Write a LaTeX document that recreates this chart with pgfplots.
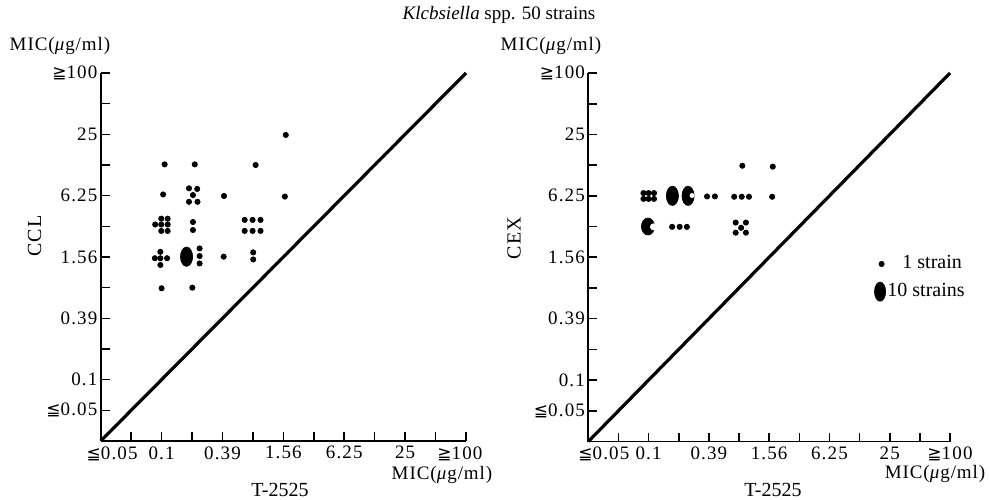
\documentclass[border=0pt]{standalone}
\usepackage{fontspec}
\setmainfont{Liberation Serif}
\newfontfamily\tickfont[LetterSpace=6]{Liberation Serif}
\newfontfamily\labfont[LetterSpace=5]{Liberation Serif}
\newfontfamily\symfont{DejaVu Sans}
\newcommand\LE{{\symfont\fontsize{8.5}{10}\selectfont ≦}}
\newcommand\GE{{\symfont\fontsize{8.5}{10}\selectfont ≧}}
\usepackage{pgfplots}
\pgfplotsset{compat=1.18}
\pgfplotsset{
  mic/.style={
    scale only axis, anchor=south west,
    xmin=0, xmax=12, ymin=0, ymax=12,
    axis x line=bottom, axis y line=left,
    axis line style={-, line width=0.9pt},
    xtick={1,...,12}, ytick={1,...,12},
    tick align=inside, major tick length=4.5pt,
    tick style={line width=0.8pt, black},
    clip=false,
    tick label style={font=\tickfont\fontsize{9.5}{10}\selectfont, inner sep=1.5pt},
    xticklabel style={yshift=-1pt},
    yticklabels={{\LE0.05},{0.1},{},{0.39},{},{1.56},{},{6.25},{},{25},{},{\GE100}},
  },
  dot/.style={only marks, mark=*, mark size=1.3pt, black, mark options={fill=black, draw=black}},
  big/.style={only marks, mark=*, mark size=3pt, black, mark options={fill=black, draw=black, yscale=1.6}},
}
\begin{document}
\begin{tikzpicture}
\useasboundingbox (0,0) rectangle (495pt,249.5pt);
% ---------------- left panel: CCL ----------------
\begin{axis}[mic, at={(50.35pt,29pt)}, width=182.65pt, height=184pt,
  xticklabels={{\hspace*{-19pt}\LE0.05},{0.1},{},{0.39},{},{1.56},{},{6.25},{},{25},{},{\hspace*{-6pt}\GE100}}]
\addplot[line width=1.6pt, black] coordinates {(0,0) (12,12)};
\addplot[dot] coordinates {
(6.08,9.98)
(2.10,9.02) (3.09,9.02) (5.09,9.00)
(2.05,8.04)
(2.90,8.24) (3.17,8.22) (3.03,8.02) (2.90,7.80) (3.18,7.80)
(4.05,7.99) (6.05,7.97)
(1.79,7.06) (1.99,7.25) (2.20,7.25) (1.99,7.06) (2.20,7.06) (1.99,6.85) (2.20,6.85)
(3.03,7.14) (3.03,6.88)
(4.73,7.21) (4.99,7.21) (5.25,7.21) (4.73,6.85) (4.99,6.85) (5.25,6.85)
(1.78,5.96) (1.96,6.17) (1.96,5.96) (1.96,5.74) (2.18,5.96)
(3.25,6.28) (3.25,6.03) (3.25,5.79)
(4.04,6.01)
(5.01,6.15) (5.01,5.92)
(2.00,4.98) (3.01,5.00)
};
\addplot[big] coordinates {(2.82,6.01)};
\end{axis}
% ---------------- right panel: CEX ----------------
\begin{axis}[mic, at={(294.15pt,28.75pt)}, width=180.85pt, height=184.25pt,
  xticklabels={{\hspace*{-14.5pt}\LE0.05},{0.1},{},{0.39},{},{1.56},{},{6.25},{},{25},{},{\GE100}}]
\addplot[line width=1.6pt, black] coordinates {(0,0) (12,12)};
\addplot[dot] coordinates {
(5.11,8.98) (6.12,8.95)
(1.83,8.09) (2.00,8.09) (2.18,8.09) (1.83,7.90) (2.00,7.90) (2.18,7.90)
(3.94,7.98) (4.20,7.98)
(4.84,7.97) (5.09,7.97) (5.33,7.97)
(6.10,7.97)
(2.78,6.99) (3.03,6.99) (3.27,6.99)
(4.89,7.13) (5.23,7.13) (5.07,6.96) (4.89,6.80) (5.23,6.80)
};
\addplot[big] coordinates {(2.79,8.00) (3.31,8.00)};
\addplot[only marks, mark=*, mark size=3.25pt, black, mark options={fill=black, draw=black, yscale=1.3}] coordinates {(1.98,7.00)};
% notches of the 9-strain symbols
\addplot[only marks, mark=*, mark size=1pt, mark options={fill=white, draw=white}] coordinates {(3.44,8.01)};
\addplot[only marks, mark=*, mark size=1.5pt, mark options={fill=white, draw=white}] coordinates {(2.16,6.99)};
% legend symbols
\addplot[dot] coordinates {(9.73,5.78)};
\addplot[only marks, mark=*, mark size=2.75pt, black, mark options={fill=black, draw=black, yscale=1.73}] coordinates {(9.68,4.88)};
\end{axis}
% ---------------- texts ----------------
\node[font=\fontsize{9.5}{11}\selectfont] at (249.5pt,242pt) {\textit{Klcbsiella} spp. 50 strains};
\node[font=\labfont\fontsize{9.5}{11}\selectfont] at (30pt,226.5pt) {MIC(\textit{μ}g/ml)};
\node[font=\labfont\fontsize{9.5}{11}\selectfont] at (275.5pt,226.5pt) {MIC(\textit{μ}g/ml)};
\node[font=\labfont\fontsize{10}{12}\selectfont, rotate=90] at (17.25pt,131.5pt) {CCL};
\node[font=\labfont\fontsize{10}{12}\selectfont, rotate=90] at (257pt,130.5pt) {CEX};
\node[font=\labfont\fontsize{9.5}{11}\selectfont, inner sep=1pt] at (221pt,12pt) {MIC(\textit{μ}g/ml)};
\node[font=\labfont\fontsize{9.5}{11}\selectfont, inner sep=1pt] at (467.5pt,12.5pt) {MIC(\textit{μ}g/ml)};
\node[font=\fontsize{10}{12}\selectfont, inner sep=1pt] at (140pt,4.5pt) {T-2525};
\node[font=\fontsize{10}{12}\selectfont, inner sep=1pt] at (386.5pt,4.5pt) {T-2525};
\node[font=\fontsize{10}{12}\selectfont, anchor=base west, inner sep=0pt] at (451pt,115.5pt) {1 strain};
\node[font=\fontsize{10}{12}\selectfont, anchor=base west, inner sep=0pt] at (443.5pt,101.5pt) {10 strains};
\end{tikzpicture}
\end{document}
